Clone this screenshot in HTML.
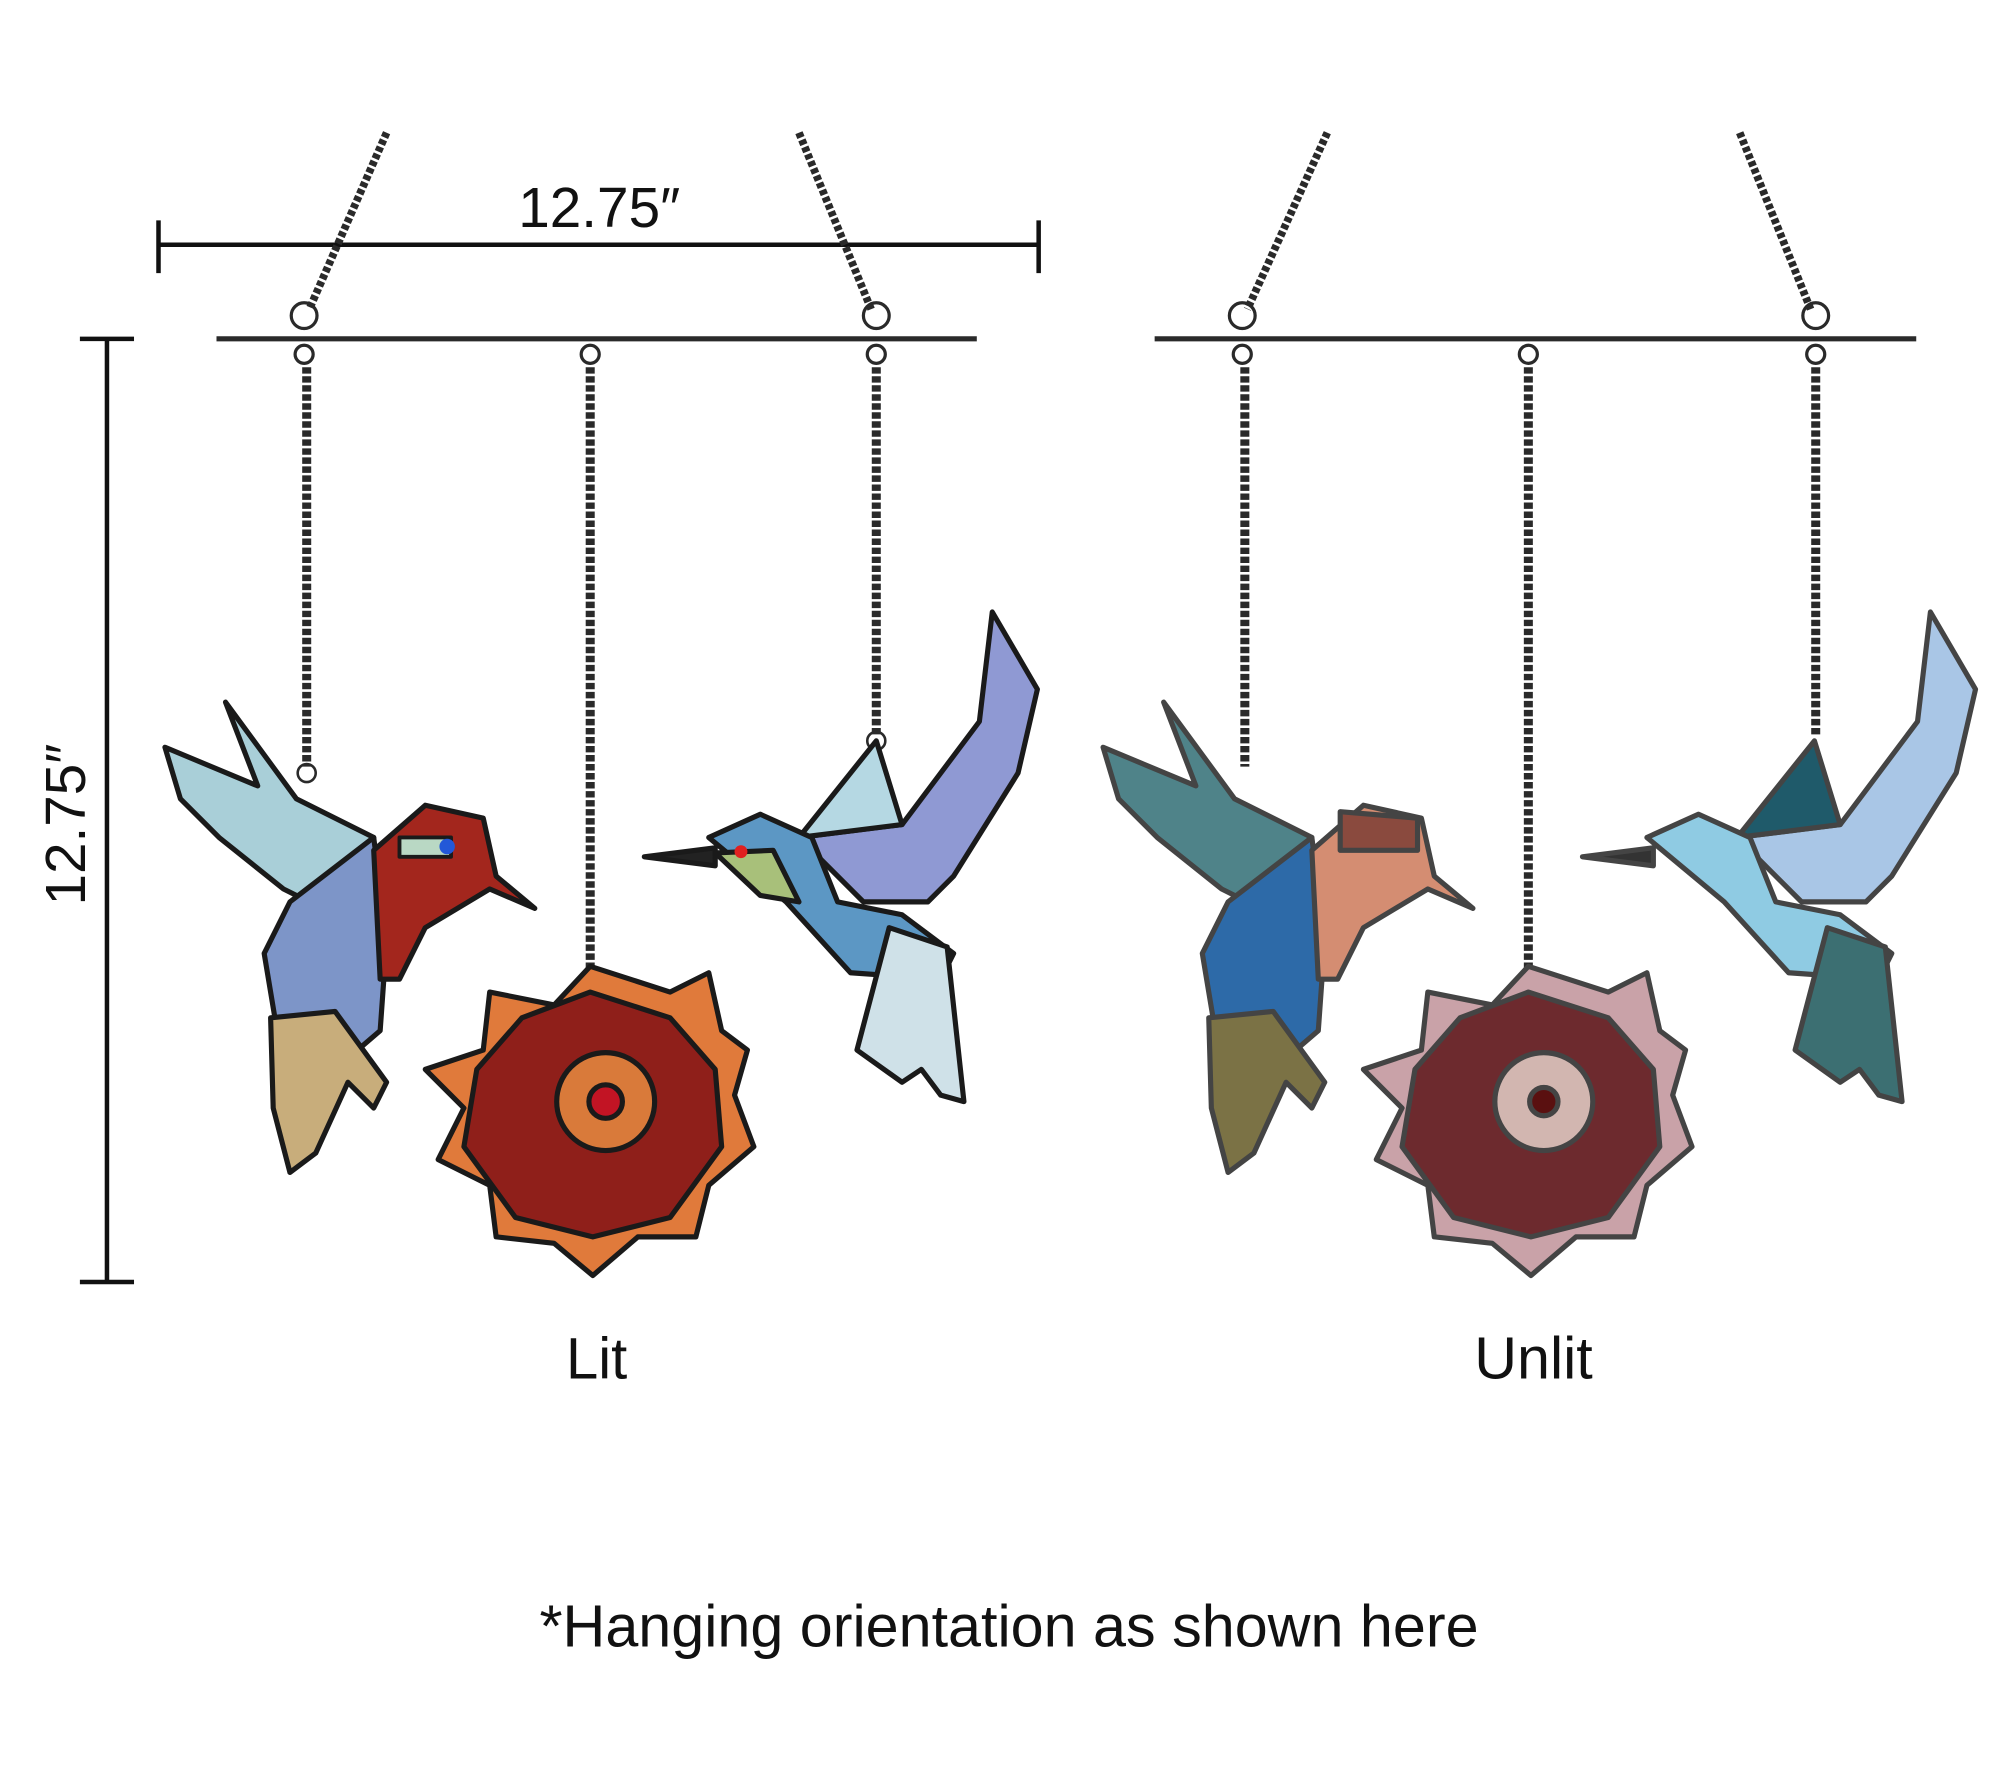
<!DOCTYPE html>
<html><head><meta charset="utf-8"><style>
html,body{margin:0;padding:0;background:#fff;}
svg{display:block;}
text{font-family:"Liberation Sans","DejaVu Sans",sans-serif;fill:#111;}
</style></head><body>
<svg width="2000" height="1778" viewBox="0 0 1552 1380" preserveAspectRatio="none" xmlns="http://www.w3.org/2000/svg">
<!-- dimension lines -->
<g stroke="#111" stroke-width="3.5">
<line x1="123" y1="190" x2="806" y2="190"/><line x1="123" y1="171" x2="123" y2="212"/><line x1="806" y1="171" x2="806" y2="212"/>
<line x1="83" y1="263" x2="83" y2="995"/><line x1="62" y1="263" x2="104" y2="263"/><line x1="62" y1="995" x2="104" y2="995"/>
</g>
<text x="465" y="176" font-size="44" text-anchor="middle">12.75″</text>
<text transform="translate(66,640) rotate(-90)" font-size="44" text-anchor="middle">12.75″</text>

<!-- LEFT set -->
<g stroke="#2a2a2a" fill="none">
<line x1="300" y1="103" x2="240" y2="240" stroke-width="6" stroke-dasharray="4 2"/>
<line x1="620" y1="103" x2="676" y2="240" stroke-width="6" stroke-dasharray="4 2"/>
<line x1="168" y1="263" x2="758" y2="263" stroke-width="4"/>
<circle cx="236" cy="245" r="10" stroke-width="2.5"/><circle cx="680" cy="245" r="10" stroke-width="2.5"/>
<circle cx="236" cy="275" r="7" stroke-width="2.5"/><circle cx="458" cy="275" r="7" stroke-width="2.5"/><circle cx="680" cy="275" r="7" stroke-width="2.5"/>
<line x1="238" y1="285" x2="238" y2="595" stroke-width="7" stroke-dasharray="5 2"/>
<line x1="458" y1="285" x2="458" y2="755" stroke-width="7" stroke-dasharray="5 2"/>
<line x1="680" y1="285" x2="680" y2="570" stroke-width="7" stroke-dasharray="5 2"/>
<circle cx="238" cy="600" r="7" stroke-width="2"/><circle cx="458" cy="760" r="7" stroke-width="2"/><circle cx="680" cy="575" r="7" stroke-width="2"/>
</g>
<!-- left bird -->
<g stroke="#1a1a1a" stroke-width="4" stroke-linejoin="round">
<polygon points="128,580 200,610 175,545 230,620 290,650 290,720 260,710 220,690 170,650 140,620" fill="#a9cfd8"/>
<polygon points="225,700 290,650 300,730 295,800 260,830 215,800 205,740" fill="#7d95c8"/>
<polygon points="290,660 330,625 375,635 385,680 415,705 380,690 330,720 310,760 295,760" fill="#a3261d"/>
<polygon points="310,650 350,650 350,665 310,665" fill="#b9d8c4" stroke-width="3"/>
<circle cx="347" cy="657" r="6" fill="#2358d8" stroke="none"/>
<polygon points="210,790 260,785 300,840 290,860 270,840 245,895 225,910 212,860" fill="#c8ad7b"/>
</g>
<!-- left flower -->
<g stroke="#1a1a1a" stroke-width="4" stroke-linejoin="round">
<polygon points="458,750 520,770 550,755 560,800 580,815 570,850 585,890 550,920 540,960 495,960 460,990 430,965 385,960 380,920 340,900 360,860 330,830 375,815 380,770 430,780" fill="#e07a3b"/>
<polygon points="458,770 520,790 555,830 560,890 520,945 460,960 400,945 360,890 370,830 405,790" fill="#8f1f1a"/>
<circle cx="470" cy="855" r="38" fill="#d97a3a"/>
<circle cx="470" cy="855" r="13" fill="#c21424"/>
</g>
<!-- right bird -->
<g stroke="#1a1a1a" stroke-width="4" stroke-linejoin="round">
<polygon points="620,650 700,640 760,560 770,475 805,535 790,600 740,680 720,700 670,700" fill="#8f99d3"/>
<polygon points="620,650 680,575 700,640" fill="#b5d8e3"/>
<polygon points="550,650 590,632 630,650 650,700 700,710 740,740 730,760 660,755 610,700" fill="#5c97c4"/>
<polygon points="555,662 600,660 620,700 590,695" fill="#a8c07a"/>
<polygon points="500,665 555,658 555,672" fill="#222"/>
<circle cx="575" cy="661" r="5" fill="#e02020" stroke="none"/>
<polygon points="690,720 735,735 748,855 730,850 715,830 700,840 665,815" fill="#cfe1e8"/>
</g>

<!-- RIGHT set -->
<g stroke="#2a2a2a" fill="none">
<line x1="1030" y1="103" x2="968" y2="240" stroke-width="6" stroke-dasharray="4 2"/>
<line x1="1350" y1="103" x2="1405" y2="240" stroke-width="6" stroke-dasharray="4 2"/>
<line x1="896" y1="263" x2="1487" y2="263" stroke-width="4"/>
<circle cx="964" cy="245" r="10" stroke-width="2.5"/><circle cx="1409" cy="245" r="10" stroke-width="2.5"/>
<circle cx="964" cy="275" r="7" stroke-width="2.5"/><circle cx="1186" cy="275" r="7" stroke-width="2.5"/><circle cx="1409" cy="275" r="7" stroke-width="2.5"/>
<line x1="966" y1="285" x2="966" y2="595" stroke-width="7" stroke-dasharray="5 2"/>
<line x1="1186" y1="285" x2="1186" y2="755" stroke-width="7" stroke-dasharray="5 2"/>
<line x1="1409" y1="285" x2="1409" y2="570" stroke-width="7" stroke-dasharray="5 2"/>
</g>
<g stroke="#444" stroke-width="4" stroke-linejoin="round">
<polygon points="856,580 928,610 903,545 958,620 1018,650 1018,720 988,710 948,690 898,650 868,620" fill="#4f8389"/>
<polygon points="953,700 1018,650 1028,730 1023,800 988,830 943,800 933,740" fill="#2d6aa8"/>
<polygon points="1018,660 1058,625 1103,635 1113,680 1143,705 1108,690 1058,720 1038,760 1023,760" fill="#d48d72"/>
<polygon points="1040,630 1100,635 1100,660 1040,660" fill="#8a4a3e"/>
<polygon points="938,790 988,785 1028,840 1018,860 998,840 973,895 953,910 940,860" fill="#7b7245"/>
<polygon points="1186,750 1248,770 1278,755 1288,800 1308,815 1298,850 1313,890 1278,920 1268,960 1223,960 1188,990 1158,965 1113,960 1108,920 1068,900 1088,860 1058,830 1103,815 1108,770 1158,780" fill="#c9a2a8"/>
<polygon points="1186,770 1248,790 1283,830 1288,890 1248,945 1188,960 1128,945 1088,890 1098,830 1133,790" fill="#6d2a2e"/>
<circle cx="1198" cy="855" r="38" fill="#d2b6b0"/>
<circle cx="1198" cy="855" r="11" fill="#5a1010"/>
<polygon points="1348,650 1428,640 1488,560 1498,475 1533,535 1518,600 1468,680 1448,700 1398,700" fill="#a9c6e6"/>
<polygon points="1348,650 1408,575 1428,640" fill="#1f5a6a"/>
<polygon points="1278,650 1318,632 1358,650 1378,700 1428,710 1468,740 1458,760 1388,755 1338,700" fill="#8fcbe3"/>
<polygon points="1228,665 1283,658 1283,672" fill="#333"/>
<polygon points="1418,720 1463,735 1476,855 1458,850 1443,830 1428,840 1393,815" fill="#3c6f72"/>
</g>

<text x="463" y="1070" font-size="45" text-anchor="middle">Lit</text>
<text x="1190" y="1070" font-size="46" text-anchor="middle">Unlit</text>
<text x="783" y="1278" font-size="46" text-anchor="middle">*Hanging orientation as shown here</text>
</svg>
</body></html>
